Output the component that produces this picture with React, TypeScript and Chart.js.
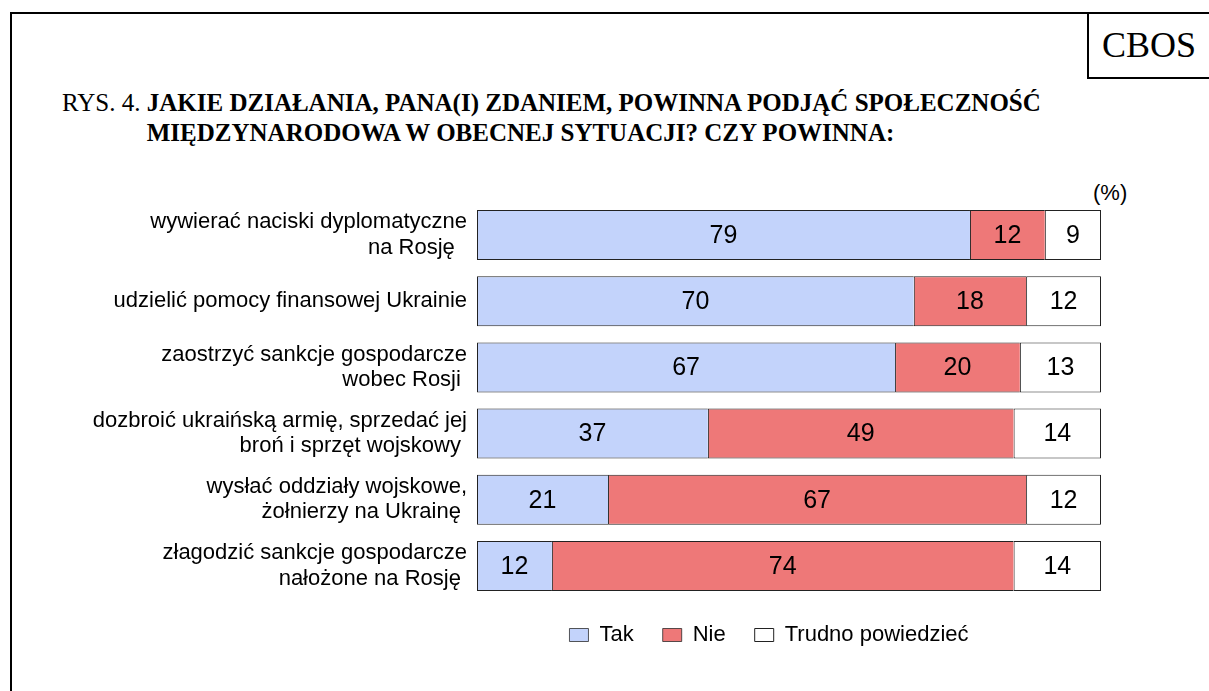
import React, { useEffect, useRef } from "react";
import { Chart, registerables } from "chart.js";

Chart.register(...registerables);

const categories: (string | string[])[] = [
  ["wywierać naciski dyplomatyczne", "na Rosję  "],
  "udzielić pomocy finansowej Ukrainie",
  ["zaostrzyć sankcje gospodarcze", "wobec Rosji "],
  ["dozbroić ukraińską armię, sprzedać jej", "broń i sprzęt wojskowy "],
  ["wysłać oddziały wojskowe,", "żołnierzy na Ukrainę "],
  ["złagodzić sankcje gospodarcze", "nałożone na Rosję "],
];
const takValues = [79, 70, 67, 37, 21, 12];
const nieValues = [12, 18, 20, 49, 67, 74];
const trudnoValues = [9, 12, 13, 14, 12, 14];
const seriesNames = ["Tak", "Nie", "Trudno powiedzieć"];
const seriesColors = ["#C3D3FB", "#EE7878", "#FFFFFF"];

const SANS = "'Liberation Sans', Arial, sans-serif";
const SERIF = "'Liberation Serif', 'Times New Roman', serif";

const valueLabels = {
  id: "valueLabels",
  afterDatasetsDraw(chart: any) {
    const ctx = chart.ctx;
    ctx.save();
    ctx.font = "25px " + SANS;
    ctx.fillStyle = "#000";
    ctx.textAlign = "center";
    ctx.textBaseline = "middle";
    chart.data.datasets.forEach((ds: any, i: number) => {
      const meta = chart.getDatasetMeta(i);
      meta.data.forEach((el: any, j: number) => {
        const p = el.getProps(["x", "base", "y"], true);
        ctx.fillText(String(ds.data[j]), (p.x + p.base) / 2, p.y + 1);
      });
    });
    ctx.restore();
  },
};

// centre the legend under the whole figure width used by the original layout
const legendPlacement = {
  id: "legendPlacement",
  afterLayout(chart: any) {
    const lg = chart.legend;
    if (!lg) return;
    const w = lg.right - lg.left;
    const shift = 437;
    lg.left = shift;
    lg.right = shift + (chart.chartArea.right - shift);
    lg.width = lg.right - lg.left;
    lg.top -= 4;
    lg.bottom -= 4;
    void w;
  },
};

export default function App() {
  const ref = useRef<HTMLCanvasElement | null>(null);

  useEffect(() => {
    if (!ref.current) return;
    const inner = { top: 1, bottom: 1, left: 1, right: 0 };
    const chart = new Chart(ref.current, {
      type: "bar",
      data: {
        labels: categories,
        datasets: [
          { label: seriesNames[0], data: takValues, backgroundColor: seriesColors[0], borderColor: "#222", borderWidth: inner, borderSkipped: false },
          { label: seriesNames[1], data: nieValues, backgroundColor: seriesColors[1], borderColor: "#222", borderWidth: inner, borderSkipped: false },
          { label: seriesNames[2], data: trudnoValues, backgroundColor: seriesColors[2], borderColor: "#222", borderWidth: 1, borderSkipped: false },
        ],
      },
      options: {
        indexAxis: "y",
        responsive: false,
        animation: false,
        events: [],
        layout: { padding: { left: 0, right: 108, top: 202, bottom: 31 } },
        datasets: { bar: { barPercentage: 0.755, categoryPercentage: 1 } },
        scales: {
          x: { stacked: true, min: 0, max: 100, display: false },
          y: {
            stacked: true,
            grid: { display: false, drawTicks: false },
            border: { display: false },
            ticks: {
              color: "#000",
              padding: 10,
              font: { family: SANS, size: 22, lineHeight: 1.15 },
            },
            afterFit: (axis: any) => {
              axis.width = 477;
            },
          },
        },
        plugins: {
          tooltip: { enabled: false },
          legend: {
            position: "bottom",
            labels: {
              color: "#000",
              boxWidth: 19,
              boxHeight: 13,
              padding: 29,
              font: { family: SANS, size: 22 },
            },
          },
        },
      } as any,
      plugins: [valueLabels, legendPlacement],
    });
    return () => chart.destroy();
  }, []);

  return (
    <div style={{ position: "absolute", left: 0, top: 0, width: 1209, height: 691, background: "#fff", overflow: "hidden" }}>
      <div style={{ position: "absolute", left: 10, top: 12, width: 1199, height: 2, background: "#000" }} />
      <div style={{ position: "absolute", left: 10, top: 12, width: 2, height: 679, background: "#000" }} />
      <div style={{ position: "absolute", left: 1087, top: 12, width: 2, height: 67, background: "#000" }} />
      <div style={{ position: "absolute", left: 1087, top: 77, width: 122, height: 2, background: "#000" }} />
      <div style={{ position: "absolute", left: 1089, top: 25, width: 120, textAlign: "center", fontFamily: SERIF, fontSize: 36, lineHeight: "40px", color: "#000" }}>CBOS</div>
      <div style={{ position: "absolute", left: 62, top: 88, display: "flex", fontFamily: SERIF, fontSize: 25, lineHeight: "30px", color: "#000", whiteSpace: "pre" }}>
        <span>RYS. 4. </span>
        <span style={{ fontWeight: "bold" }}>
          JAKIE DZIAŁANIA, PANA(I) ZDANIEM, POWINNA PODJĄĆ SPOŁECZNOŚĆ
          <br />
          MIĘDZYNARODOWA W OBECNEJ SYTUACJI? CZY POWINNA:
        </span>
      </div>
      <div style={{ position: "absolute", left: 1093, top: 182, fontFamily: SANS, fontSize: 22, lineHeight: "22px", color: "#000" }}>(%)</div>
      <canvas ref={ref} width={1209} height={691} style={{ position: "absolute", left: 0, top: 0, width: 1209, height: 691 }} />
    </div>
  );
}
